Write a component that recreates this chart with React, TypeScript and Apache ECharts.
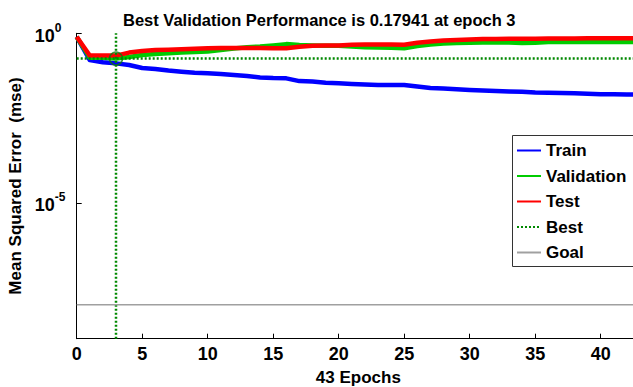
import React, { useEffect, useRef } from "react";
import * as echarts from "echarts";

const titleText = "Best Validation Performance is 0.17941 at epoch 3";
const xAxisTitle = "43 Epochs";
const yAxisTitle = "Mean Squared Error  (mse)";

const epochs = [
  0, 1, 2, 3, 4, 5, 6, 7, 8, 9, 10, 11, 12, 13, 14, 15, 16, 17, 18, 19, 20, 21,
  22, 23, 24, 25, 26, 27, 28, 29, 30, 31, 32, 33, 34, 35, 36, 37, 38, 39, 40, 41,
  42, 43,
];

const trainMse = [
  0.78, 0.163, 0.14, 0.13, 0.116, 0.095, 0.089, 0.08, 0.074, 0.069, 0.066,
  0.063, 0.059, 0.055, 0.05, 0.048, 0.047, 0.039, 0.038, 0.035, 0.0335, 0.032,
  0.031, 0.03, 0.03, 0.03, 0.027, 0.0245, 0.0236, 0.0223, 0.0213, 0.0205,
  0.0198, 0.0194, 0.019, 0.018, 0.0178, 0.0174, 0.017, 0.0165, 0.016, 0.0159,
  0.0158, 0.0157,
];

const validationMse = [
  0.78, 0.19, 0.19, 0.17941, 0.2, 0.23, 0.245, 0.26, 0.27, 0.28, 0.29, 0.32,
  0.355, 0.39, 0.41, 0.44, 0.48, 0.45, 0.44, 0.43, 0.43, 0.41, 0.39, 0.38,
  0.375, 0.36, 0.42, 0.47, 0.5, 0.52, 0.53, 0.535, 0.535, 0.535, 0.52, 0.53,
  0.55, 0.55, 0.55, 0.55, 0.56, 0.55, 0.55, 0.55,
];

const testMse = [
  0.79, 0.22, 0.22, 0.22, 0.27, 0.3, 0.32, 0.33, 0.34, 0.35, 0.36, 0.37, 0.37,
  0.37, 0.37, 0.36, 0.36, 0.4, 0.43, 0.44, 0.44, 0.46, 0.47, 0.47, 0.47, 0.46,
  0.53, 0.57, 0.61, 0.63, 0.66, 0.68, 0.68, 0.69, 0.69, 0.69, 0.7, 0.7, 0.7,
  0.71, 0.71, 0.71, 0.71, 0.71,
];

const bestEpoch = 3;
const bestValidation = 0.17941;
const goalMse = 1e-8;

const xMin = 0;
const xMax = 43;
const xTicks = [0, 5, 10, 15, 20, 25, 30, 35, 40];
const yMinExp = -9;
const yMaxExp = 0;
const yTickExps = [0, -5];

const legendNames = ["Train", "Validation", "Test", "Best", "Goal"];

const FONT = "Arial, 'Liberation Sans', Helvetica, sans-serif";

export default function App() {
  const ref = useRef<HTMLDivElement>(null);

  useEffect(() => {
    if (!ref.current) return;
    const chart = echarts.init(ref.current, null, { renderer: "svg" });
    const toLog = (arr: number[]) => arr.map((v, i) => [epochs[i], Math.log10(v)]);
    const bestLog = Math.log10(bestValidation);
    const goalLog = Math.log10(goalMse);

    chart.setOption({
      animation: false,
      backgroundColor: "#fff",
      title: {
        text: titleText,
        left: 123,
        top: 11,
        padding: 0,
        textStyle: {
          fontSize: 16.5,
          fontWeight: "bold",
          color: "#000",
          fontFamily: FONT,
          lineHeight: 18,
        },
      },
      graphic: [
        {
          type: "rect",
          z: 3,
          shape: { x: 512, y: 135, width: 160, height: 132 },
          style: { fill: "#fff", stroke: "none" },
        },
        {
          type: "polyline",
          z: 3,
          shape: {
            points: [
              [680, 135.5],
              [512.5, 135.5],
              [512.5, 266.5],
              [680, 266.5],
            ],
          },
          style: { fill: "none", stroke: "#333", lineWidth: 1 },
        },
      ],
      legend: {
        data: legendNames,
        orient: "vertical",
        left: 512,
        top: 137,
        z: 10,
        itemWidth: 24,
        itemHeight: 18,
        itemGap: 8.5,
        padding: [5, 4, 4, 4],
        borderWidth: 0,
        selectedMode: false,
        itemStyle: { opacity: 0 },
        textStyle: {
          fontSize: 17,
          fontWeight: "bold",
          color: "#000",
          fontFamily: FONT,
        },
      },
      grid: {
        left: 76.7,
        right: -7,
        top: 33.3,
        bottom: 48.3,
        containLabel: false,
        outerBoundsMode: "none",
      },
      xAxis: {
        type: "value",
        min: xMin,
        max: xMax,
        interval: 5,
        splitLine: { show: false },
        axisLine: { show: true, onZero: false, lineStyle: { color: "#000", width: 1 } },
        axisTick: {
          show: true,
          inside: true,
          length: 5,
          customValues: xTicks,
          lineStyle: { color: "#000", width: 1 },
        },
        axisLabel: {
          customValues: xTicks,
          margin: 6,
          fontSize: 18,
          fontWeight: "bold",
          color: "#000",
          fontFamily: FONT,
          lineHeight: 18,
        },
        name: xAxisTitle,
        nameLocation: "middle",
        nameGap: 30,
        nameTextStyle: {
          fontSize: 17,
          fontWeight: "bold",
          color: "#000",
          fontFamily: FONT,
          lineHeight: 17,
        },
      },
      yAxis: {
        type: "value",
        min: yMinExp,
        max: yMaxExp,
        splitLine: { show: false },
        axisLine: { show: true, onZero: false, lineStyle: { color: "#000", width: 1 } },
        axisTick: {
          show: true,
          inside: true,
          length: 5,
          customValues: yTickExps,
          lineStyle: { color: "#000", width: 1 },
        },
        axisLabel: {
          customValues: yTickExps,
          align: "left",
          margin: 42,
          formatter: (v: number) => `{b|10}{s|${Math.round(v)}}`,
          rich: {
            b: {
              fontSize: 18,
              fontWeight: "bold",
              color: "#000",
              fontFamily: FONT,
              lineHeight: 23,
              verticalAlign: "bottom",
            },
            s: {
              fontSize: 12,
              fontWeight: "bold",
              color: "#000",
              fontFamily: FONT,
              lineHeight: 12,
              verticalAlign: "top",
            },
          },
        },
        name: yAxisTitle,
        nameLocation: "middle",
        nameGap: 48,
        nameTextStyle: {
          fontSize: 17,
          fontWeight: "bold",
          color: "#000",
          fontFamily: FONT,
          lineHeight: 17,
        },
      },
      series: [
        {
          name: "Train",
          type: "line",
          data: toLog(trainMse),
          symbol: "none",
          color: "#0000ff",
          lineStyle: { color: "#0000ff", width: 4.5, join: "round" },
          z: 2,
        },
        {
          name: "Validation",
          type: "line",
          data: toLog(validationMse),
          symbol: "none",
          color: "#00cc00",
          lineStyle: { color: "#00cc00", width: 4.5, join: "round" },
          z: 3,
        },
        {
          name: "Test",
          type: "line",
          data: toLog(testMse),
          symbol: "none",
          color: "#ff0000",
          lineStyle: { color: "#ff0000", width: 4.5, join: "round" },
          z: 4,
        },
        {
          name: "Best",
          type: "line",
          data: [
            [xMin, bestLog],
            [xMax, bestLog],
          ],
          symbol: "none",
          color: "#008800",
          lineStyle: { color: "#008800", width: 2.5, type: [2, 2] },
          z: 5,
        },
        {
          name: "Best",
          type: "line",
          data: [
            [bestEpoch, yMinExp],
            [bestEpoch, yMaxExp],
          ],
          symbol: "none",
          color: "#008800",
          lineStyle: { color: "#008800", width: 2.5, type: [2, 2] },
          z: 5,
        },
        {
          name: "Goal",
          type: "line",
          data: [
            [xMin, goalLog],
            [xMax, goalLog],
          ],
          symbol: "none",
          color: "#a0a0a0",
          lineStyle: { color: "#a0a0a0", width: 1.5 },
          z: 5,
        },
        {
          name: "Best point",
          type: "scatter",
          data: [[bestEpoch, bestLog]],
          symbol: "circle",
          symbolSize: 13,
          itemStyle: {
            color: "rgba(0,0,0,0)",
            borderColor: "#0a7a0a",
            borderWidth: 1.5,
          },
          z: 6,
        },
      ],
    });

    return () => chart.dispose();
  }, []);

  return (
    <div
      style={{
        position: "fixed",
        left: 0,
        top: 0,
        width: 633,
        height: 387,
        overflow: "hidden",
        background: "#fff",
      }}
    >
      <div ref={ref} style={{ width: 633, height: 387 }} />
    </div>
  );
}
